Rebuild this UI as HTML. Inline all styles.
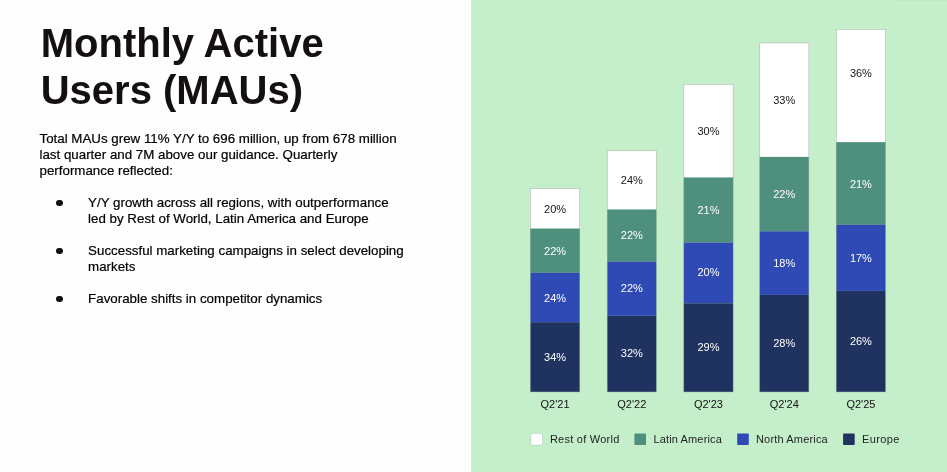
<!DOCTYPE html>
<html lang="en">
<head>
<meta charset="utf-8">
<title>Monthly Active Users (MAUs)</title>
<style>
html, body { margin: 0; padding: 0; }
body { width: 947px; height: 472px; overflow: hidden; background: #fefefe; position: relative;
  font-family: "Liberation Sans", Arial, sans-serif; color: #111111; }
.chart { position: absolute; left: 0; top: 0; font-family: "Liberation Sans", Arial, sans-serif; }
h1 { position: absolute; left: 40.7px; top: 19.7px; margin: 0; font-size: 40px; line-height: 47.7px;
  font-weight: bold; color: #141010; white-space: nowrap; letter-spacing: 0; }
.body { position: absolute; left: 39.5px; top: 131.2px; font-size: 13.33px; line-height: 15.96px; color: #000000; -webkit-text-stroke: 0.2px #000000; white-space: nowrap; }
.body p { margin: 0 0 15.96px 0; }
.body ul { margin: 0; padding: 0; list-style: none; }
.body li { position: relative; padding-left: 48.6px; margin: 0 0 15.96px 0; }
.body li::before { content: ""; position: absolute; left: 16.9px; top: 5.3px; width: 6.2px; height: 6.2px; border-radius: 50%; background: #111111; }
</style>
</head>
<body>
<svg class="chart" width="947" height="472" viewBox="0 0 947 472">
<rect x="471.1" y="0" width="476" height="472" fill="#c4efca"/>
<rect x="893" y="0" width="54" height="1" fill="#000000" fill-opacity="0.03"/>
<rect x="530.40" y="188.60" width="49.30" height="40.00" fill="#ffffff"/>
<rect x="530.40" y="228.60" width="49.30" height="44.20" fill="#4f8f7d"/>
<rect x="530.40" y="272.80" width="49.30" height="49.40" fill="#2f49b5"/>
<rect x="530.40" y="322.20" width="49.30" height="69.70" fill="#203260"/>
<rect x="530.40" y="188.60" width="49.30" height="203.30" fill="none" stroke="#8a8a8a" stroke-opacity="0.48" stroke-width="0.7"/>
<text x="555.05" y="212.84" text-anchor="middle" font-size="11.0" fill="#151515">20%</text>
<text x="555.05" y="254.54" text-anchor="middle" font-size="11.0" fill="#ffffff">22%</text>
<text x="555.05" y="302.04" text-anchor="middle" font-size="11.0" fill="#ffffff">24%</text>
<text x="555.05" y="360.89" text-anchor="middle" font-size="11.0" fill="#ffffff">34%</text>
<text x="555.05" y="407.8" text-anchor="middle" font-size="11.0" fill="#111111">Q2'21</text>
<rect x="607.30" y="150.80" width="49.00" height="58.70" fill="#ffffff"/>
<rect x="607.30" y="209.50" width="49.00" height="52.10" fill="#4f8f7d"/>
<rect x="607.30" y="261.60" width="49.00" height="54.20" fill="#2f49b5"/>
<rect x="607.30" y="315.80" width="49.00" height="76.10" fill="#203260"/>
<rect x="607.30" y="150.80" width="49.00" height="241.10" fill="none" stroke="#8a8a8a" stroke-opacity="0.48" stroke-width="0.7"/>
<text x="631.80" y="183.99" text-anchor="middle" font-size="11.0" fill="#151515">24%</text>
<text x="631.80" y="239.39" text-anchor="middle" font-size="11.0" fill="#ffffff">22%</text>
<text x="631.80" y="291.84" text-anchor="middle" font-size="11.0" fill="#ffffff">22%</text>
<text x="631.80" y="356.99" text-anchor="middle" font-size="11.0" fill="#ffffff">32%</text>
<text x="631.80" y="407.8" text-anchor="middle" font-size="11.0" fill="#111111">Q2'22</text>
<rect x="683.80" y="84.40" width="49.30" height="93.10" fill="#ffffff"/>
<rect x="683.80" y="177.50" width="49.30" height="65.10" fill="#4f8f7d"/>
<rect x="683.80" y="242.60" width="49.30" height="60.70" fill="#2f49b5"/>
<rect x="683.80" y="303.30" width="49.30" height="88.60" fill="#203260"/>
<rect x="683.80" y="84.40" width="49.30" height="307.50" fill="none" stroke="#8a8a8a" stroke-opacity="0.48" stroke-width="0.7"/>
<text x="708.45" y="134.79" text-anchor="middle" font-size="11.0" fill="#151515">30%</text>
<text x="708.45" y="213.89" text-anchor="middle" font-size="11.0" fill="#ffffff">21%</text>
<text x="708.45" y="276.29" text-anchor="middle" font-size="11.0" fill="#ffffff">20%</text>
<text x="708.45" y="351.44" text-anchor="middle" font-size="11.0" fill="#ffffff">29%</text>
<text x="708.45" y="407.8" text-anchor="middle" font-size="11.0" fill="#111111">Q2'23</text>
<rect x="759.70" y="43.00" width="49.10" height="113.90" fill="#ffffff"/>
<rect x="759.70" y="156.90" width="49.10" height="74.40" fill="#4f8f7d"/>
<rect x="759.70" y="231.30" width="49.10" height="63.60" fill="#2f49b5"/>
<rect x="759.70" y="294.90" width="49.10" height="97.00" fill="#203260"/>
<rect x="759.70" y="43.00" width="49.10" height="348.90" fill="none" stroke="#8a8a8a" stroke-opacity="0.48" stroke-width="0.7"/>
<text x="784.25" y="103.79" text-anchor="middle" font-size="11.0" fill="#151515">33%</text>
<text x="784.25" y="197.94" text-anchor="middle" font-size="11.0" fill="#ffffff">22%</text>
<text x="784.25" y="267.44" text-anchor="middle" font-size="11.0" fill="#ffffff">18%</text>
<text x="784.25" y="347.24" text-anchor="middle" font-size="11.0" fill="#ffffff">28%</text>
<text x="784.25" y="407.8" text-anchor="middle" font-size="11.0" fill="#111111">Q2'24</text>
<rect x="836.30" y="29.40" width="49.20" height="112.80" fill="#ffffff"/>
<rect x="836.30" y="142.20" width="49.20" height="82.60" fill="#4f8f7d"/>
<rect x="836.30" y="224.80" width="49.20" height="66.10" fill="#2f49b5"/>
<rect x="836.30" y="290.90" width="49.20" height="101.00" fill="#203260"/>
<rect x="836.30" y="29.40" width="49.20" height="362.50" fill="none" stroke="#8a8a8a" stroke-opacity="0.48" stroke-width="0.7"/>
<text x="860.90" y="76.89" text-anchor="middle" font-size="11.0" fill="#151515">36%</text>
<text x="860.90" y="188.34" text-anchor="middle" font-size="11.0" fill="#ffffff">21%</text>
<text x="860.90" y="261.69" text-anchor="middle" font-size="11.0" fill="#ffffff">17%</text>
<text x="860.90" y="345.24" text-anchor="middle" font-size="11.0" fill="#ffffff">26%</text>
<text x="860.90" y="407.8" text-anchor="middle" font-size="11.0" fill="#111111">Q2'25</text>
<rect x="530.80" y="433.6" width="11.6" height="11.5" rx="0.8" fill="#ffffff" stroke="#9a9a9a" stroke-opacity="0.5" stroke-width="0.6"/>
<text x="549.90" y="442.9" font-size="11.0" textLength="69.4" lengthAdjust="spacing" fill="#222222">Rest of World</text>
<rect x="634.40" y="433.6" width="11.6" height="11.5" rx="0.8" fill="#4f8f7d"/>
<text x="653.40" y="442.9" font-size="11.0" textLength="68.4" lengthAdjust="spacing" fill="#222222">Latin America</text>
<rect x="737.20" y="433.6" width="11.6" height="11.5" rx="0.8" fill="#2f49b5"/>
<text x="756.00" y="442.9" font-size="11.0" textLength="71.7" lengthAdjust="spacing" fill="#222222">North America</text>
<rect x="843.10" y="433.6" width="11.6" height="11.5" rx="0.8" fill="#203260"/>
<text x="862.00" y="442.9" font-size="11.0" textLength="37.3" lengthAdjust="spacing" fill="#222222">Europe</text>
</svg>
<h1>Monthly Active<br>Users (MAUs)</h1>
<div class="body">
<p>Total MAUs grew 11% Y/Y to 696 million, up from 678 million<br>last quarter and 7M above our guidance. Quarterly<br>performance reflected:</p>
<ul>
<li>Y/Y growth across all regions, with outperformance<br>led by Rest of World, Latin America and Europe</li>
<li>Successful marketing campaigns in select developing<br>markets</li>
<li>Favorable shifts in competitor dynamics</li>
</ul>
</div>
</body>
</html>
